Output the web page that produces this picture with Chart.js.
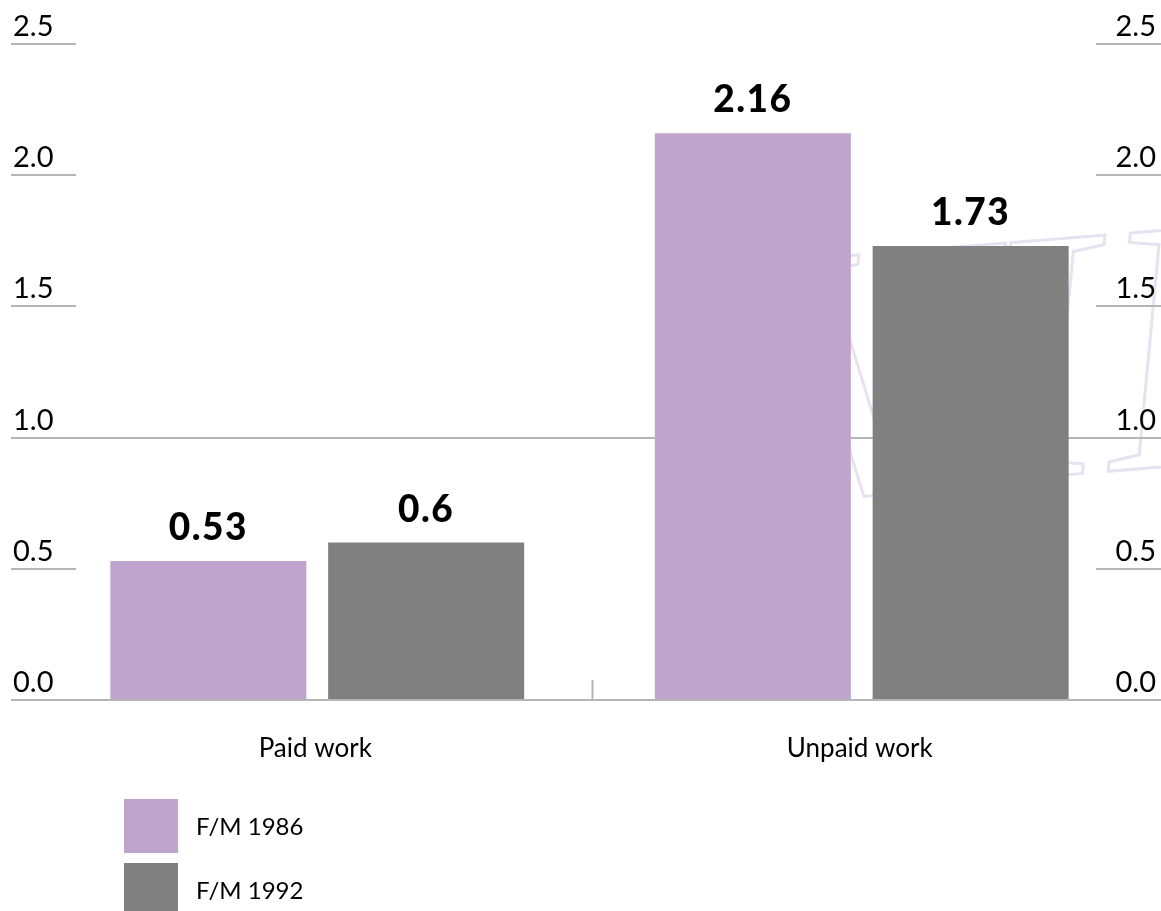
<!DOCTYPE html>
<html>
<head>
<meta charset="utf-8">
<script src="https://cdn.jsdelivr.net/npm/chart.js@4"></script>
<style>
  html, body { margin: 0; padding: 0; background: #ffffff; }
  #wrap { width: 1161px; height: 911px; position: relative; }
</style>
</head>
<body>
<div id="wrap"><canvas id="c" width="1161" height="911"></canvas></div>
<script>
const categories = ["Paid work", "Unpaid work"];
const seriesNames = ["F/M 1986", "F/M 1992"];
const values1986 = [0.53, 2.16];
const values1992 = [0.6, 1.73];
const valueLabels1986 = ["0.53", "2.16"];
const valueLabels1992 = ["0.6", "1.73"];
const tickValues = [0, 0.5, 1.0, 1.5, 2.0, 2.5];
const tickLabels = ["0.0", "0.5", "1.0", "1.5", "2.0", "2.5"];
const colors = ["#BFA5CD", "#808080"];

const FONT = "Lato, 'Open Sans', sans-serif";
const GRID = "#b5b5b5";

const decor = {
  id: 'decor',
  beforeDatasetsDraw(chart) {
    const ctx = chart.ctx;
    const y = chart.scales.y, x = chart.scales.x;
    const W = chart.width;
    ctx.save();
    // faint watermark monogram (outline only)
    ctx.strokeStyle = "rgba(205,188,225,0.45)";
    ctx.lineWidth = 3;
    ctx.font = "italic 360px 'Liberation Serif', 'DejaVu Serif', serif";
    ctx.textAlign = "center";
    ctx.textBaseline = "alphabetic";
    ctx.translate(1000, 480);
    ctx.rotate(-0.08);
    ctx.strokeText("VII", 0, 0);
    ctx.restore();

    ctx.save();
    ctx.strokeStyle = GRID;
    ctx.lineWidth = 2;
    tickValues.forEach(v => {
      const py = Math.round(y.getPixelForValue(v));
      ctx.beginPath();
      if (v === 0 || v === 1.0) {
        ctx.moveTo(11, py); ctx.lineTo(W, py);
      } else {
        ctx.moveTo(11, py); ctx.lineTo(76, py);
        ctx.moveTo(1096, py); ctx.lineTo(W, py);
      }
      ctx.stroke();
    });
    // divider tick between categories
    const mid = (x.getPixelForValue(0) + x.getPixelForValue(1)) / 2 + 3;
    const py0 = Math.round(y.getPixelForValue(0));
    ctx.beginPath();
    ctx.moveTo(mid, py0 - 20); ctx.lineTo(mid, py0);
    ctx.stroke();
    ctx.restore();
  },
  afterDatasetsDraw(chart) {
    const ctx = chart.ctx;
    const y = chart.scales.y, x = chart.scales.x;
    ctx.save();
    // baseline over bars
    ctx.strokeStyle = GRID;
    ctx.lineWidth = 2;
    const py0 = Math.round(y.getPixelForValue(0));
    ctx.beginPath(); ctx.moveTo(11, py0); ctx.lineTo(chart.width, py0); ctx.stroke();

    // tick labels both sides
    ctx.fillStyle = "#000";
    ctx.font = "29px " + FONT;
    ctx.textBaseline = "alphabetic";
    tickValues.forEach((v, i) => {
      const py = y.getPixelForValue(v);
      ctx.textAlign = "left";
      ctx.fillText(tickLabels[i], 13, py - 8);
      ctx.textAlign = "right";
      ctx.fillText(tickLabels[i], 1156, py - 8);
    });

    // value labels
    ctx.font = "900 37px " + FONT;
    try { ctx.letterSpacing = "1.5px"; } catch (e) {}
    ctx.textAlign = "center";
    const lbls = [valueLabels1986, valueLabels1992];
    chart.data.datasets.forEach((ds, di) => {
      const meta = chart.getDatasetMeta(di);
      meta.data.forEach((bar, i) => {
        ctx.fillText(lbls[di][i], bar.x, bar.y - 21);
      });
    });
    try { ctx.letterSpacing = "0px"; } catch (e) {}

    // category labels
    ctx.font = "26px " + FONT;
    categories.forEach((c, i) => {
      ctx.fillText(c, x.getPixelForValue(i) - 2, 757);
    });

    // legend
    ctx.textAlign = "left";
    ctx.textBaseline = "middle";
    ctx.font = "24px " + FONT;
    chart.data.datasets.forEach((ds, di) => {
      const top = 799 + di * 64;
      ctx.fillStyle = ds.backgroundColor;
      ctx.fillRect(124, top, 54, 54);
      ctx.fillStyle = "#000";
      ctx.fillText(ds.label, 196, top + 28);
    });
    ctx.restore();
  }
};

new Chart(document.getElementById('c'), {
  type: 'bar',
  data: {
    labels: categories,
    datasets: [
      { label: seriesNames[0], data: values1986, backgroundColor: colors[0], borderWidth: 0 },
      { label: seriesNames[1], data: values1992, backgroundColor: colors[1], borderWidth: 0 }
    ]
  },
  options: {
    responsive: false,
    animation: false,
    layout: { padding: { top: 44, bottom: 211, left: 45, right: 27 } },
    plugins: { legend: { display: false }, tooltip: { enabled: false } },
    scales: {
      x: { display: false },
      y: { display: false, min: 0, max: 2.5 }
    },
    datasets: { bar: { categoryPercentage: 0.8, barPercentage: 0.9 } }
  },
  plugins: [decor]
});
</script>
</body>
</html>
